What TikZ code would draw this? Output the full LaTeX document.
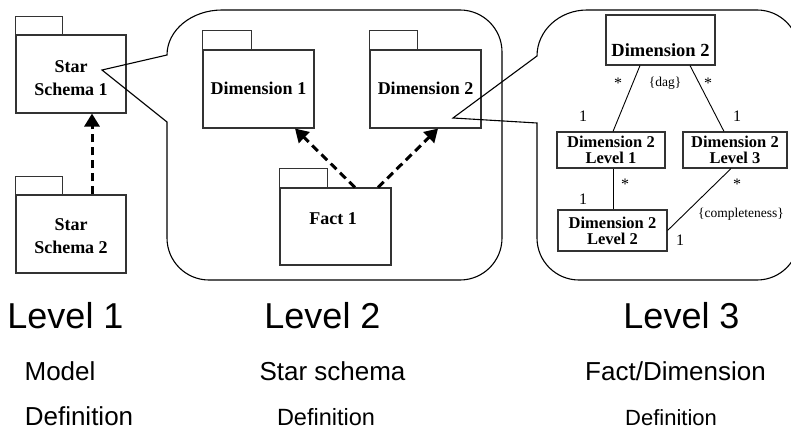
\documentclass[tikz,border=0pt]{standalone}
\usepackage{fontspec}
\setmainfont{Liberation Serif}
\newfontfamily\capfont{Liberation Sans}
\usetikzlibrary{arrows.meta,calc}

\tikzset{
  pkgbody/.style={draw=black!80, line width=1.1pt, minimum width=110pt, minimum height=78pt, inner sep=0pt},
  pkgtab/.style={draw=black!80, line width=1.1pt},
  pkgtext/.style={align=center, inner sep=0pt, font=\fontsize{18}{23}\selectfont\bfseries},
  classbox/.style={draw=black!80, line width=1.1pt, inner sep=0pt, align=center, font=\fontsize{16.5}{16}\selectfont\bfseries},
  depend/.style={line width=3pt, dash pattern=on 8pt off 5pt, -{Triangle[length=13pt,width=15pt]}},
  assoc/.style={line width=0.9pt},
  bubble/.style={line width=1.1pt, line join=miter},
  mult/.style={inner sep=0pt, font=\fontsize{16}{16}\selectfont},
  constraint/.style={inner sep=0pt, font=\fontsize{13.5}{14}\selectfont},
  caption/.style={inner sep=0pt, anchor=base, font=\capfont\fontsize{26}{26}\selectfont},
}

\begin{document}
\begin{tikzpicture}[x=1pt, y=-1pt]
\useasboundingbox (0,0) rectangle (791,430);
\clip (0,0) rectangle (791,430);

% ---------- Level 1: model ----------
\node[pkgbody] (ss1) at (71,74) {};
\draw[pkgtab] (ss1.north west) rectangle ++(47,-18);
\node[pkgtext] (ss1t) at (71,78) {Star\\Schema 1};

\node[pkgbody] (ss2) at (71,234) {};
\draw[pkgtab] (ss2.north west) rectangle ++(47,-18);
\node[pkgtext] (ss2t) at (71,236) {Star\\Schema 2};

\draw[depend] ([xshift=21pt]ss2.north) -- ([xshift=21pt]ss1.south);

% ---------- Level 2: star schema ----------
\node[pkgbody, minimum width=111pt] (d1) at (258.5,89) {};
\draw[pkgtab] (d1.north west) rectangle ++(49,-19);
\node[pkgtext, anchor=base] (d1t) at (258.5,95) {Dimension 1};

\node[pkgbody, minimum width=111pt] (d2) at (425.5,89) {};
\draw[pkgtab] (d2.north west) rectangle ++(48,-19);
\node[pkgtext, anchor=base] (d2t) at (425.5,95) {Dimension 2};

\node[pkgbody, minimum width=111pt, minimum height=77pt] (f1) at (335.5,226.5) {};
\draw[pkgtab] (f1.north west) rectangle ++(48,-19);
\node[pkgtext, anchor=base] (f1t) at (333,225) {Fact 1};

\draw[depend] ([xshift=19.5pt]f1.north) -- ([xshift=36.5pt]d1.south);
\draw[depend] ([xshift=42.5pt]f1.north) -- ([xshift=12.5pt]d2.south);

% ---------- Level 3: dimension hierarchy ----------
\node[classbox, minimum width=109pt, minimum height=50pt] (top) at (660.5,40) {};
\node[pkgtext, anchor=base, font=\fontsize{18.5}{18}\selectfont\bfseries] (topt) at (660.5,57) {Dimension 2};
\node[classbox, minimum width=108pt, minimum height=36pt] (l1) at (611,150) {Dimension 2\\Level 1};
\node[classbox, minimum width=104pt, minimum height=36pt] (l3) at (735,150) {Dimension 2\\Level 3};
\node[classbox, minimum width=109pt, minimum height=41pt] (l2) at (612.5,230.5) {Dimension 2\\Level 2};

\draw[assoc] ([xshift=-20.5pt]top.south) -- ([xshift=2pt]l1.north);
\draw[assoc] ([xshift=29.5pt]top.south) -- ([xshift=-11pt]l3.north);
\draw[assoc] ([xshift=2pt]l1.south) -- ([xshift=0.5pt]l2.north);
\draw[assoc] ([xshift=-4pt]l3.south) -- (l2.east);

\node[mult] (m1) at (618,83) {*};
\node[constraint] (dag) at (665,83) {\{dag\}};
\node[mult] (m2) at (708,83) {*};
\node[mult] (m3) at (583,116) {1};
\node[mult] (m4) at (737,116) {1};
\node[mult] (m5) at (625,184) {*};
\node[mult] (m6) at (583,199) {1};
\node[mult] (m7) at (737,184) {*};
\node[constraint] (comp) at (741,214) {\{completeness\}};
\node[mult] (m8) at (680,240) {1};

% ---------- zoom-in callouts ----------
\coordinate (tip1) at (102,70);
\coordinate (tip2) at (453,118);

\draw[bubble] (167,122) -- (167,238)
  arc[start angle=180, end angle=270, radius=42pt] -- (460,280)
  arc[start angle=270, end angle=360, radius=42pt] -- (502,52)
  arc[start angle=0, end angle=90, radius=42pt] -- (222,10)
  arc[start angle=90, end angle=180, x radius=55pt, y radius=45pt]
  -- (tip1) -- cycle;

\draw[bubble] (537,123) -- (537,238)
  arc[start angle=180, end angle=270, radius=42pt] -- (757,280)
  arc[start angle=270, end angle=360, radius=42pt] -- (799,52)
  arc[start angle=0, end angle=90, radius=42pt] -- (587,10)
  arc[start angle=90, end angle=180, x radius=50pt, y radius=46pt]
  -- (tip2) -- cycle;

% ---------- captions ----------
\node[caption, font=\capfont\fontsize{36}{36}\selectfont] (lv1) at (65.5,328) {Level 1};
\node[caption, font=\capfont\fontsize{36}{36}\selectfont] (lv2) at (322.5,328) {Level 2};
\node[caption, font=\capfont\fontsize{36}{36}\selectfont] (lv3) at (681.5,328) {Level 3};

\node[caption] (c1) at (60,380) {Model};
\node[caption] (c2) at (332.5,380) {Star schema};
\node[caption] (c3) at (675.5,380) {Fact/Dimension};

\node[caption] (e1) at (79,425) {Definition};
\node[caption, font=\capfont\fontsize{23.5}{24}\selectfont] (e2) at (326,425) {Definition};
\node[caption, font=\capfont\fontsize{22}{22}\selectfont] (e3) at (671,425) {Definition};
\end{tikzpicture}
\end{document}
